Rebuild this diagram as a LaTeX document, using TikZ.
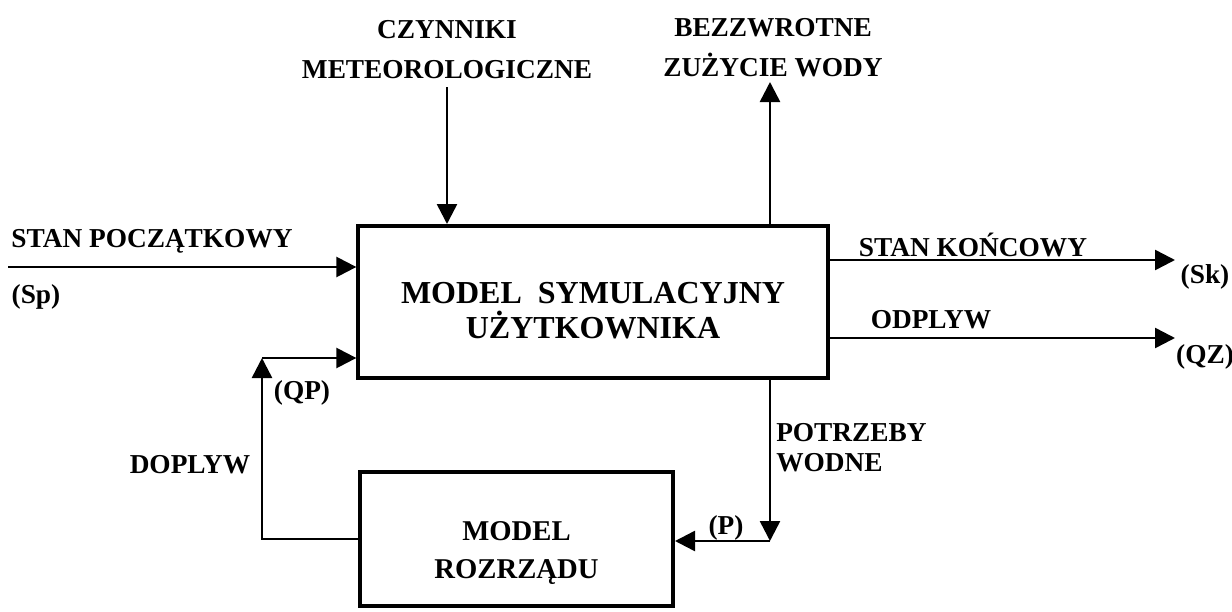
\documentclass[tikz,border=0pt]{standalone}
\usepackage{fontspec}
\setmainfont{Liberation Serif}
\usetikzlibrary{arrows.meta}
\begin{document}
\begin{tikzpicture}[x=0.75pt,y=-0.75pt,
  lbl/.style={font=\fontsize{20.5}{30}\selectfont\bfseries, inner sep=0pt, align=center},
  blk/.style={draw, line width=3pt, inner sep=0pt, align=center},
  flow/.style={line width=1.9pt, -{Triangle[length=15pt,width=15pt]}},
  plain/.style={line width=1.9pt}]
\useasboundingbox (0,0) rectangle (1232,611);
% blocks
\node[blk, minimum width=352pt, minimum height=114pt, text height=55pt,
      font=\fontsize{24}{26}\selectfont\bfseries] (main) at (593,302)
      {MODEL\ \ SYMULACYJNY\\UŻYTKOWNIKA};
\node[blk, minimum width=234.75pt, minimum height=100.5pt, text height=64pt,
      font=\fontsize{21.5}{28.5}\selectfont\bfseries] (roz) at (516.5,539)
      {MODEL\\ROZRZĄDU};
% labels
\node[lbl] (meteo) at (447,50) {CZYNNIKI\\METEOROLOGICZNE};
\node[lbl] (bez) at (773,48) {BEZZWROTNE\\ZUŻYCIE WODY};
\node[lbl] (spl) at (152,241) {STAN POCZĄTKOWY};
\node[lbl] (sp) at (36,297) {(Sp)};
\node[lbl] (skl) at (973,245) {STAN KOŃCOWY};
\node[lbl] (sk) at (1205,277) {(Sk)};
\node[lbl] (qzl) at (931,320) {ODPLYW};
\node[lbl] (qz) at (1205,357) {(QZ)};
\node[lbl] (qp) at (302,393) {(QP)};
\node[lbl] (dop) at (190,465) {DOPLYW};
\node[lbl, font=\fontsize{20.5}{22.5}\selectfont\bfseries, align=left, anchor=west] (pot) at (776,448) {POTRZEBY\\WODNE};
\node[lbl] (p) at (726,528) {(P)};
% coordinates
\coordinate (spin) at (8,267);
\coordinate (skout) at (1175,260);
\coordinate (qzout) at (1175,338);
\coordinate (qpc) at (262,358);
\coordinate (pc) at (770,541);
\coordinate (mtop) at (447,87);
\coordinate (btop) at (770,82);
% connectors
\draw[flow] (mtop) -- (mtop |- main.north);
\draw[flow] (main.north -| btop) -- (btop);
\draw[flow] (spin) -- (spin -| main.west);
\draw[flow] (main.east |- skout) -- (skout);
\draw[flow] (main.east |- qzout) -- (qzout);
\draw[flow] (roz.west) -| (qpc);
\draw[flow] (qpc) -- (qpc -| main.west);
\draw[flow] (main.south -| pc) -- (pc);
\draw[flow] (pc) -- (pc -| roz.east);
\end{tikzpicture}
\end{document}
